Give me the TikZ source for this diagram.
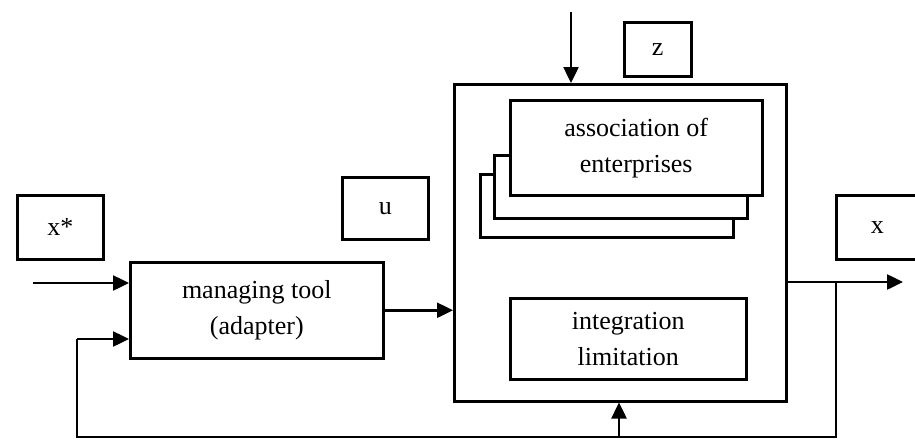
\documentclass[tikz,border=0pt]{standalone}
\usepackage{fontspec}
\setmainfont{Liberation Serif}
\usetikzlibrary{arrows.meta}
\begin{document}
\begin{tikzpicture}[x=1pt,y=-1pt,
  box/.style={draw, line width=2.5pt, fill=white, inner sep=0pt, anchor=north west, align=center, font=\fontsize{26}{36}\selectfont},
  conn/.style={line width=2.5pt},
  arr/.style={line width=2.5pt, -{Triangle[length=16pt,width=15pt]}}]
\useasboundingbox (0,0) rectangle (915,439);
% boxes
\node[box, minimum width=86pt, minimum height=64pt] (xs) at (16,194) {x*};
\node[box, minimum width=86pt, minimum height=62pt] (u) at (341,176) {u};
\node[box, minimum width=67pt, minimum height=54pt] (z) at (623,21) {z};
\node[box, minimum width=82pt, minimum height=64pt] (x) at (835,194) {x};
\node[box, minimum width=253pt, minimum height=96pt] (mt) at (129,261) {managing tool\\(adapter)};
\node[box, minimum width=332pt, minimum height=317pt] (big) at (453,83) {};
\node[box, minimum width=253pt, minimum height=63pt] (ae3) at (479,173) {};
\node[box, minimum width=253pt, minimum height=63pt] (ae2) at (493,154) {};
\node[box, minimum width=252pt, minimum height=95pt] (ae1) at (509,99) {association of\\enterprises};
\node[box, minimum width=236pt, minimum height=81pt] (il) at (509,297) {integration\\limitation};
% coordinates
\coordinate (in) at (33,283);
\coordinate (top) at (571,12);
\coordinate (out) at (903,282);
\coordinate (br) at (836,282);
\coordinate (bl) at (836,437);
\coordinate (fl) at (77,437);
\coordinate (fu) at (77,339);
\coordinate (up) at (619,437);
% connectors
\draw[arr] (in) -- (in -| mt.west);
\draw[arr] (mt.east) -- (mt.east -| big.west);
\draw[arr] (top) -- (top |- big.north);
\draw[arr] (br -| big.east) -- (out);
\draw[conn] (br) -- (bl) -- (fl) -- (fu);
\draw[arr] (fu) -- (fu -| mt.west);
\draw[arr] (up) -- (up |- big.south);
\end{tikzpicture}
\end{document}
